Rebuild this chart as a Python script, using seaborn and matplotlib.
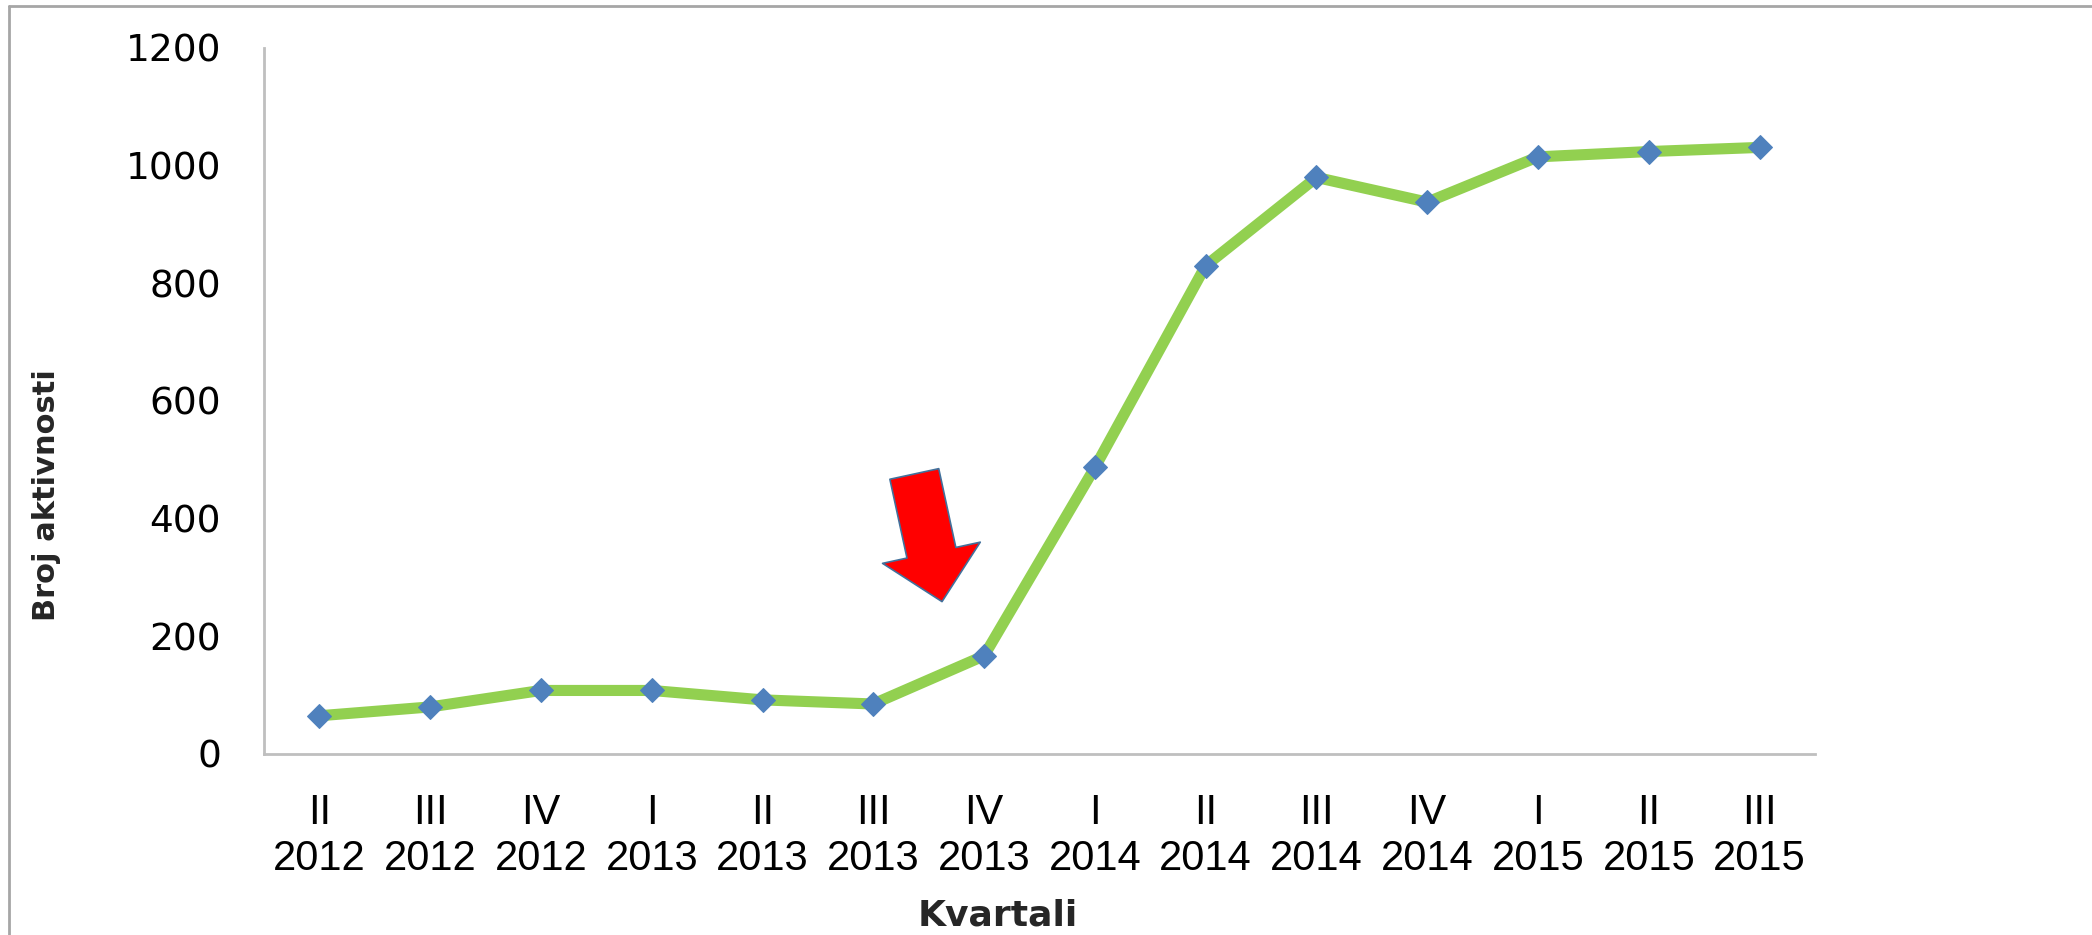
import matplotlib
matplotlib.use("Agg")
import matplotlib.pyplot as plt
import seaborn as sns
import pandas as pd
from matplotlib.lines import Line2D

# ---- data ----
quarters = ["II", "III", "IV", "I", "II", "III", "IV", "I", "II", "III", "IV", "I", "II", "III"]
years = ["2012", "2012", "2012", "2013", "2013", "2013", "2013", "2014", "2014", "2014", "2014", "2015", "2015", "2015"]
values = [65, 80, 108, 108, 92, 85, 167, 487, 830, 980, 938, 1015, 1024, 1031]
y_ticks = [0, 200, 400, 600, 800, 1000, 1200]
x_title = "Kvartali"
y_title = "Broj aktivnosti"

# annotation arrow (data coords: category position, value)
ARROW_TAIL = (5.37, 476)
ARROW_TIP = (5.62, 259)

labels = [f"{q}\n{y}" for q, y in zip(quarters, years)]
df = pd.DataFrame({"kvartal": labels, "broj": values})

sns.set_theme(style="white")
plt.rcParams["font.family"] = ["DejaVu Sans"]

fig = plt.figure(figsize=(20.92, 9.35), dpi=100)
ax = fig.add_axes([264 / 2092, 1 - 754 / 935, 1551 / 2092, 706 / 935])

sns.lineplot(data=df, x="kvartal", y="broj", sort=False, ax=ax,
             color="#92D050", linewidth=8, marker="D", markersize=12,
             markerfacecolor="#4F81BD", markeredgecolor="#4F81BD")

ax.set_xlim(-0.5, len(labels) - 0.5)
ax.set_ylim(0, 1200)
ax.set_yticks(y_ticks)
ax.set_yticklabels([str(v) for v in y_ticks], fontsize=27, color="black")
ax.set_xticks(range(len(labels)))
ax.set_xticklabels(labels, fontsize=30, color="black",
                   family=["Liberation Sans Narrow", "Liberation Sans", "DejaVu Sans"],
                   linespacing=1.2)
ax.tick_params(axis="y", length=0, pad=31)
ax.tick_params(axis="x", length=0, pad=28)

for s in ["top", "right"]:
    ax.spines[s].set_visible(False)
for s in ["left", "bottom"]:
    ax.spines[s].set_color("#BFBFBF")
    ax.spines[s].set_linewidth(2)
ax.grid(False)

ax.set_xlabel(x_title, fontsize=26, fontweight="bold", va="center")
ax.xaxis.set_label_coords(0.473, -0.229)
ax.set_ylabel(y_title, fontsize=22, fontweight="bold", va="center")
ax.yaxis.set_label_coords(-0.14, 0.367)

ax.annotate("", xy=ARROW_TIP, xytext=ARROW_TAIL,
            arrowprops=dict(arrowstyle="simple,head_length=36,head_width=72,tail_width=36",
                            mutation_scale=1, fc="#FF0000", ec="#41719C", lw=1.2,
                            shrinkA=0, shrinkB=0))

# outer frame (top and left edges)
fig.add_artist(Line2D([9 / 2092, 1], [1 - 6 / 935, 1 - 6 / 935], transform=fig.transFigure,
                      color="#A6A6A6", lw=2))
fig.add_artist(Line2D([9 / 2092, 9 / 2092], [0, 1 - 6 / 935], transform=fig.transFigure,
                      color="#A6A6A6", lw=2))

fig.savefig("out.png", dpi=100, facecolor="white")
